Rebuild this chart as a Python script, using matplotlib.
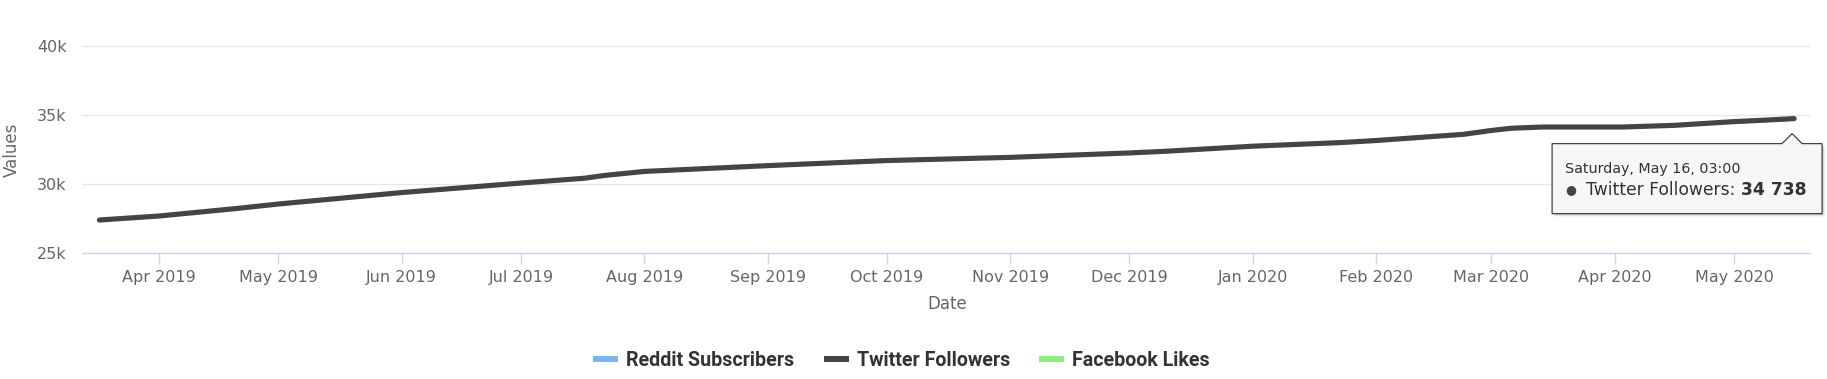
import pandas as pd
import matplotlib
matplotlib.use("Agg")
import matplotlib.pyplot as plt
import matplotlib.dates as mdates
import matplotlib.transforms as mtransforms
from matplotlib.patches import Polygon
from matplotlib.lines import Line2D
from matplotlib.text import Annotation
from matplotlib.ticker import FuncFormatter

# Twitter follower count
dates = ["2019-03-17", "2019-04-01", "2019-04-21", "2019-05-01", "2019-06-01",
         "2019-07-01", "2019-07-17", "2019-07-22", "2019-08-01",
         "2019-09-01", "2019-10-01", "2019-11-01", "2019-12-01", "2019-12-10",
         "2020-01-01", "2020-01-23", "2020-02-01", "2020-02-23", "2020-03-01",
         "2020-03-06", "2020-03-14", "2020-04-03", "2020-04-16", "2020-05-01",
         "2020-05-07", "2020-05-16 03:00"]
followers = [27390, 27680, 28240, 28550, 29380,
             30070, 30420, 30620, 30910,
             31330, 31700, 31930, 32250, 32370,
             32740, 33000, 33150, 33600, 33880,
             34040, 34130, 34130, 34250, 34520,
             34600, 34738]

series_names = ["Reddit Subscribers", "Twitter Followers", "Facebook Likes"]
series_colors = ["#7cb5ec", "#434348", "#90ed7d"]
y_ticks = [25000, 30000, 35000, 40000]
tooltip_title = "Saturday, May 16, 03:00"

x = pd.to_datetime(dates, format="ISO8601")

fig = plt.figure(figsize=(18.27, 3.79), dpi=100)
ax = fig.add_axes([82 / 1827, 1 - 253 / 379, 1728 / 1827, 207 / 379])

ax.plot(x, followers, color=series_colors[1], lw=3.7, solid_capstyle="round",
        solid_joinstyle="round", zorder=3)

ax.set_xlim(pd.Timestamp("2019-03-12 15:00"), pd.Timestamp("2020-05-20 03:00"))
ax.set_ylim(25000, 40000)

# axes styling (highcharts look)
ax.set_yticks(y_ticks)
ax.yaxis.set_major_formatter(FuncFormatter(lambda v, p: f"{int(v / 1000)}k"))
ax.grid(axis="y", color="#e6e6e6", lw=0.9)
ax.set_axisbelow(True)
for s in ["top", "right", "left"]:
    ax.spines[s].set_visible(False)
ax.spines["bottom"].set_color("#ccd6eb")
ax.spines["bottom"].set_linewidth(1.0)

ax.xaxis.set_major_locator(mdates.MonthLocator())
ax.xaxis.set_major_formatter(mdates.DateFormatter("%b %Y"))
ax.tick_params(axis="x", colors="#ccd6eb", length=8, width=1, pad=4,
               labelcolor="#666666", labelsize=11.5)
ax.tick_params(axis="y", length=0, pad=11, labelcolor="#666666", labelsize=11.5)

ax.set_xlabel("Date", fontsize=12, color="#666666")
ax.set_ylabel("Values", fontsize=12, color="#666666")
ax.xaxis.label.set_va("center")
ax.yaxis.label.set_va("center")
ax.xaxis.set_label_coords((947 - 82) / 1728, (253 - 304) / 207)
ax.yaxis.set_label_coords((11.5 - 82) / 1728, 0.5)

# legend
handles = [Line2D([], [], color=c, lw=4.3, solid_capstyle="butt") for c in series_colors]
fig.legend(handles, series_names, loc="center", bbox_to_anchor=(0.4934, 1 - 360 / 379),
           ncol=3, frameon=False, handlelength=1.28, handletextpad=0.41,
           columnspacing=1.5,
           prop={"family": ["Roboto", "DejaVu Sans"], "weight": "bold", "size": 14.1},
           labelcolor="#333333")

# tooltip anchored to the last point
px, py = ax.transData.transform((mdates.date2num(x[-1]), followers[-1]))
L, R, T, B = px - 242, px + 28, py - 25, py - 95
outline = [(L, T), (px - 12, T), (px - 2, py - 15), (px + 8, T), (R, T), (R, B), (L, B)]
disp = mtransforms.IdentityTransform()
for off, a in [(3, 0.06), (2, 0.08), (1, 0.12)]:
    fig.patches.append(Polygon([(u + off, v - off) for u, v in outline], closed=True,
                               transform=disp, facecolor="black", edgecolor="none",
                               alpha=a, zorder=5))
fig.patches.append(Polygon(outline, closed=True, transform=disp, facecolor="#f7f7f7",
                           edgecolor=series_colors[1], lw=0.9, zorder=6))

fig.text(L + 13, py - 50, tooltip_title, transform=disp, fontsize=10.3,
         color="#333333", va="center", ha="left", zorder=7)
fig.text(L + 19, py - 71, "\u25cf", transform=disp, fontsize=9, color=series_colors[1],
         va="center", ha="center", zorder=7)
t1 = fig.text(L + 34, py - 71, series_names[1] + ": ", transform=disp, fontsize=12.3,
              color="#333333", va="center", ha="left", zorder=7)
val = Annotation(f"{followers[-1]:,}".replace(",", " "), xy=(1, 0.5), xycoords=t1,
                 fontsize=12.3, fontweight="bold", color="#333333", va="center",
                 ha="left", annotation_clip=False)
val.set_zorder(7)
fig.add_artist(val)

fig.savefig("out.png", dpi=100, facecolor="white")
